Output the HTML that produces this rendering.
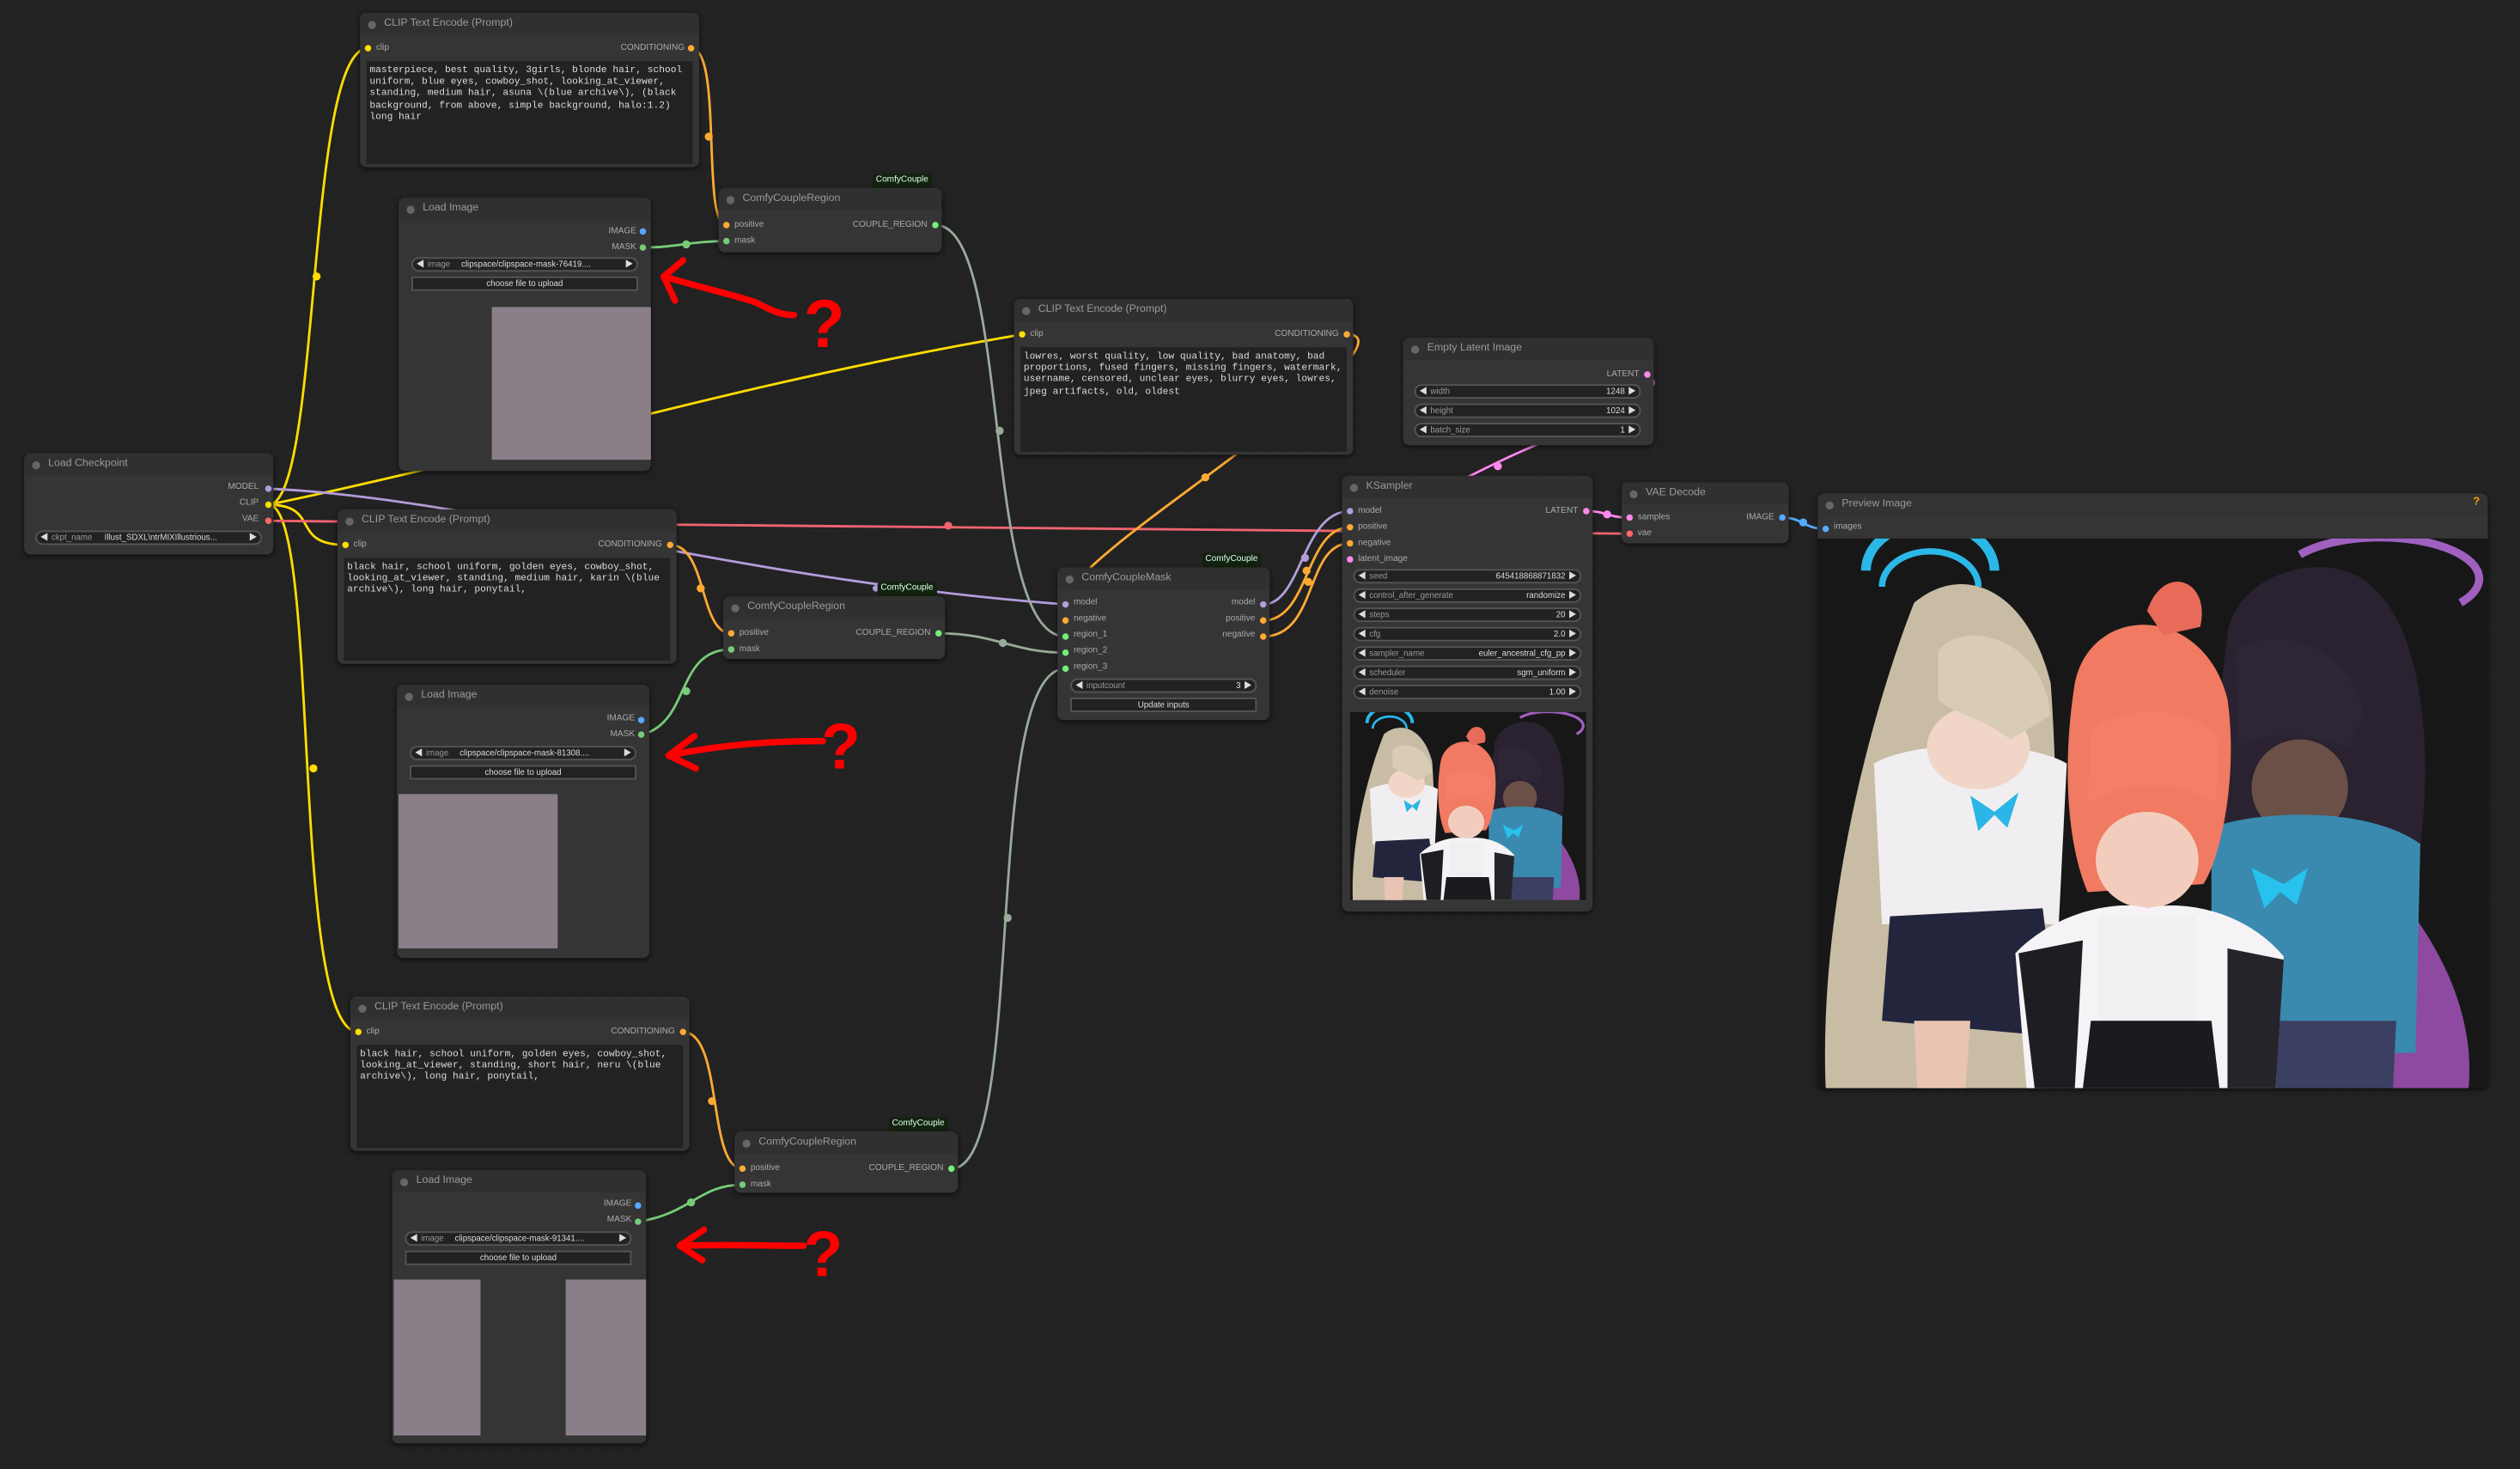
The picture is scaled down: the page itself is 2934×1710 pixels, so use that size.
<!DOCTYPE html>
<html><head><meta charset="utf-8"><style>
html,body{margin:0;padding:0;background:#222;overflow:hidden;width:2934px;height:1709px}
#s{position:absolute;left:0;top:0;width:1568px;height:914px;transform:scale(1.87117);transform-origin:0 0;background:#222;font-family:"Liberation Sans","Noto Sans CJK KR",sans-serif}
.n{position:absolute;background:#353535;border-radius:4px;box-shadow:0 1px 3px rgba(0,0,0,.6)}
.ti{position:absolute;left:0;top:0;right:0;height:14px;background:#303030;border-radius:4px 4px 0 0;color:#9a9a9a;font-size:6.6px;line-height:14px;padding-left:15px;white-space:nowrap}
.ti:before{content:"";position:absolute;left:5px;top:4.5px;width:5px;height:5px;border-radius:50%;background:#666}
.l{position:absolute;font-size:5.4px;color:#aaa;white-space:nowrap;line-height:7px}
.r{text-align:right}
.d{position:absolute;width:4px;height:4px;border-radius:50%;margin:-2px 0 0 -2px}
.tb{position:absolute;background:#222;color:#ddd;font-family:"Liberation Mono","Noto Sans CJK KR",monospace;font-size:6px;line-height:7.2px;padding:2px 2px;box-sizing:border-box;white-space:normal;word-break:break-word}
.w{position:absolute;height:9px;background:#222;border:0.6px solid #555;border-radius:5px;box-sizing:border-box;font-size:5.2px;line-height:8px;color:#999;white-space:nowrap;overflow:hidden}
.w .a{position:absolute;left:2px;color:#ddd}
.w .b{position:absolute;right:2px;color:#ddd}
.w .k{position:absolute;left:9px}
.w .v{position:absolute;right:9px;color:#ddd}
.btn{position:absolute;height:9px;background:#222;border:0.6px solid #555;box-sizing:border-box;font-size:5.2px;line-height:8px;color:#ddd;text-align:center}
.bd{position:absolute;color:#dfe;font-size:5.4px;line-height:9px;height:9px;padding:0 2px;border-radius:2px;background:#13220f}
.g{position:absolute;background:#8a7f88}
</style></head><body><div id="s">
<svg width="1568" height="914" style="position:absolute;left:0;top:0">
<defs><pattern id="gr" width="10" height="10" patternUnits="userSpaceOnUse"><path d="M10 0H0V10" fill="none" stroke="#262626" stroke-width=".5"/></pattern></defs>
<rect width="1568" height="914" fill="url(#gr)"/>
<g fill="none" stroke-width="1.5">
<path d="M167 314 C200 314 190 30 229 30" stroke="#fd0"/>
<path d="M167 314 C200 314 180 339 215 339" stroke="#fd0"/>
<path d="M167 314 C200 314 180 642 223 642" stroke="#fd0"/>
<path d="M167 314 C330 280 450 240 636 208" stroke="#fd0"/>
<path d="M167 304 C300 310 450 360 663 376" stroke="#b39ddb"/>
<path d="M167 324 C400 326 700 328 1014 332" stroke="#f06470"/>
<path d="M430 30 C450 30 436 140 452 140" stroke="#fa3"/>
<path d="M400 154 C420 154 430 150 452 150" stroke="#7c7"/>
<path d="M582 140 C630 140 610 396 663 396" stroke="#9a9"/>
<path d="M417 339 C440 339 435 394 455 394" stroke="#fa3"/>
<path d="M399 457 C430 450 420 404 455 404" stroke="#7c7"/>
<path d="M584 394 C620 394 630 406 663 406" stroke="#9a9"/>
<path d="M425 642 C450 642 440 727 462 727" stroke="#fa3"/>
<path d="M397 760 C430 755 435 737 462 737" stroke="#7c7"/>
<path d="M592 727 C640 727 610 416 663 416" stroke="#9a9"/>
<path d="M838 208 C860 208 830 240 770 282 C720 320 660 360 660 380 C660 390 663 386 663 386" stroke="#fa3"/>
<path d="M786 376 C810 376 810 318 840 318" stroke="#b39ddb"/>
<path d="M786 386 C815 386 812 328 840 328" stroke="#fa3"/>
<path d="M786 396 C820 396 812 338 840 338" stroke="#fa3"/>
<path d="M1025 233 C1035 240 1030 245 960 275 C900 300 835 340 840 348" stroke="#f8e"/>
<path d="M987 318 C1000 318 1000 322 1014 322" stroke="#f8e"/>
<path d="M1109 322 C1122 322 1122 329 1136 329" stroke="#5af"/>
</g>
<g>
<circle cx="197" cy="172" r="2.5" fill="#fd0"/><circle cx="195" cy="478" r="2.5" fill="#fd0"/>
<circle cx="441" cy="85" r="2.5" fill="#fa3"/><circle cx="427" cy="152" r="2.5" fill="#7c7"/>
<circle cx="622" cy="268" r="2.5" fill="#9a9"/><circle cx="436" cy="366" r="2.5" fill="#fa3"/>
<circle cx="427" cy="430" r="2.5" fill="#7c7"/><circle cx="624" cy="400" r="2.5" fill="#9a9"/>
<circle cx="443" cy="685" r="2.5" fill="#fa3"/><circle cx="430" cy="748" r="2.5" fill="#7c7"/>
<circle cx="627" cy="571" r="2.5" fill="#9a9"/><circle cx="750" cy="297" r="2.5" fill="#fa3"/>
<circle cx="590" cy="327" r="2.5" fill="#f06470"/><circle cx="545" cy="366" r="2" fill="#b39ddb"/>
<circle cx="812" cy="347" r="2.5" fill="#b39ddb"/><circle cx="813" cy="355" r="2.5" fill="#fa3"/><circle cx="814" cy="362" r="2.5" fill="#fa3"/>
<circle cx="932" cy="290" r="2.5" fill="#f8e"/><circle cx="1000" cy="320" r="2.5" fill="#f8e"/><circle cx="1122" cy="325" r="2.5" fill="#5af"/>
</g>
</svg>

<div class="n" style="left:224px;top:8px;width:211px;height:96px"><div class="ti">CLIP Text Encode (Prompt)</div>
<div class="l" style="left:10px;top:19px">clip</div><div class="l r" style="right:9px;top:19px">CONDITIONING</div>
<div class="tb" style="left:4px;top:30px;width:203px;height:64px">masterpiece, best quality, 3girls, blonde hair, school uniform, blue eyes, cowboy_shot, looking_at_viewer, standing, medium hair, asuna \(blue archive\), (black background, from above, simple background, halo:1.2) long hair</div></div>
<div class="d" style="left:229px;top:30px;background:#fd0"></div><div class="d" style="left:430px;top:30px;background:#fa3"></div>

<div class="n" style="left:248px;top:123px;width:157px;height:170px"><div class="ti">Load Image</div>
<div class="l r" style="right:9px;top:18px">IMAGE</div><div class="l r" style="right:9px;top:28px">MASK</div>
<div class="w" style="left:8px;top:37px;width:141px"><span class="a">◀</span><span class="k">image</span><span style="position:absolute;left:30px;color:#ddd">clipspace/clipspace-mask-76419....</span><span class="b">▶</span></div>
<div class="btn" style="left:8px;top:49px;width:141px">choose file to upload</div>
<div class="g" style="left:58px;top:68px;width:99px;height:95px"></div></div>
<div class="d" style="left:400px;top:144px;background:#5af"></div><div class="d" style="left:400px;top:154px;background:#7c7"></div>

<div class="bd" style="left:543px;top:108px">ComfyCouple</div>
<div class="n" style="left:447px;top:117px;width:139px;height:40px"><div class="ti">ComfyCoupleRegion</div>
<div class="l" style="left:10px;top:20px">positive</div><div class="l" style="left:10px;top:30px">mask</div><div class="l r" style="right:9px;top:20px">COUPLE_REGION</div></div>
<div class="d" style="left:452px;top:140px;background:#fa3"></div><div class="d" style="left:452px;top:150px;background:#7c7"></div><div class="d" style="left:582px;top:140px;background:#7e7"></div>

<div class="n" style="left:631px;top:186px;width:211px;height:97px"><div class="ti">CLIP Text Encode (Prompt)</div>
<div class="l" style="left:10px;top:19px">clip</div><div class="l r" style="right:9px;top:19px">CONDITIONING</div>
<div class="tb" style="left:4px;top:30px;width:203px;height:65px">lowres, worst quality, low quality, bad anatomy, bad proportions, fused fingers, missing fingers, watermark, username, censored, unclear eyes, blurry eyes, lowres, jpeg artifacts, old, oldest</div></div>
<div class="d" style="left:636px;top:208px;background:#fd0"></div><div class="d" style="left:838px;top:208px;background:#fa3"></div>

<div class="n" style="left:873px;top:210px;width:156px;height:67px"><div class="ti">Empty Latent Image</div>
<div class="l r" style="right:9px;top:20px">LATENT</div>
<div class="w" style="left:7px;top:29px;width:141px"><span class="a">◀</span><span class="k">width</span><span class="v">1248</span><span class="b">▶</span></div>
<div class="w" style="left:7px;top:41px;width:141px"><span class="a">◀</span><span class="k">height</span><span class="v">1024</span><span class="b">▶</span></div>
<div class="w" style="left:7px;top:53px;width:141px"><span class="a">◀</span><span class="k">batch_size</span><span class="v">1</span><span class="b">▶</span></div></div>
<div class="d" style="left:1025px;top:233px;background:#f8e"></div>

<div class="n" style="left:15px;top:282px;width:155px;height:63px"><div class="ti">Load Checkpoint</div>
<div class="l r" style="right:9px;top:18px">MODEL</div><div class="l r" style="right:9px;top:28px">CLIP</div><div class="l r" style="right:9px;top:38px">VAE</div>
<div class="w" style="left:7px;top:48px;width:141px"><span class="a">◀</span><span class="k">ckpt_name</span><span style="position:absolute;left:42px;color:#ddd">Illust_SDXL\ntrMIXIllustrious...</span><span class="b">▶</span></div></div>
<div class="d" style="left:167px;top:304px;background:#b39ddb"></div><div class="d" style="left:167px;top:314px;background:#fd0"></div><div class="d" style="left:167px;top:324px;background:#f66"></div>

<div class="n" style="left:210px;top:317px;width:211px;height:96px"><div class="ti">CLIP Text Encode (Prompt)</div>
<div class="l" style="left:10px;top:19px">clip</div><div class="l r" style="right:9px;top:19px">CONDITIONING</div>
<div class="tb" style="left:4px;top:30px;width:203px;height:64px">black hair, school uniform, golden eyes, cowboy_shot, looking_at_viewer, standing, medium hair, karin \(blue archive\), long hair, ponytail,</div></div>
<div class="d" style="left:215px;top:339px;background:#fd0"></div><div class="d" style="left:417px;top:339px;background:#fa3"></div>

<div class="bd" style="left:546px;top:362px">ComfyCouple</div>
<div class="n" style="left:450px;top:371px;width:138px;height:39px"><div class="ti">ComfyCoupleRegion</div>
<div class="l" style="left:10px;top:20px">positive</div><div class="l" style="left:10px;top:30px">mask</div><div class="l r" style="right:9px;top:20px">COUPLE_REGION</div></div>
<div class="d" style="left:455px;top:394px;background:#fa3"></div><div class="d" style="left:455px;top:404px;background:#7c7"></div><div class="d" style="left:584px;top:394px;background:#7e7"></div>

<div class="n" style="left:247px;top:426px;width:157px;height:170px"><div class="ti">Load Image</div>
<div class="l r" style="right:9px;top:18px">IMAGE</div><div class="l r" style="right:9px;top:28px">MASK</div>
<div class="w" style="left:8px;top:38px;width:141px"><span class="a">◀</span><span class="k">image</span><span style="position:absolute;left:30px;color:#ddd">clipspace/clipspace-mask-81308....</span><span class="b">▶</span></div>
<div class="btn" style="left:8px;top:50px;width:141px">choose file to upload</div>
<div class="g" style="left:1px;top:68px;width:99px;height:96px"></div></div>
<div class="d" style="left:399px;top:448px;background:#5af"></div><div class="d" style="left:399px;top:457px;background:#7c7"></div>

<div class="bd" style="left:748px;top:344px">ComfyCouple</div>
<div class="n" style="left:658px;top:353px;width:132px;height:95px"><div class="ti">ComfyCoupleMask</div>
<div class="l" style="left:10px;top:19px">model</div><div class="l" style="left:10px;top:29px">negative</div><div class="l" style="left:10px;top:39px">region_1</div><div class="l" style="left:10px;top:49px">region_2</div><div class="l" style="left:10px;top:59px">region_3</div>
<div class="l r" style="right:9px;top:19px">model</div><div class="l r" style="right:9px;top:29px">positive</div><div class="l r" style="right:9px;top:39px">negative</div>
<div class="w" style="left:8px;top:69px;width:116px"><span class="a">◀</span><span class="k">inputcount</span><span class="v">3</span><span class="b">▶</span></div>
<div class="btn" style="left:8px;top:81px;width:116px">Update inputs</div></div>
<div class="d" style="left:663px;top:376px;background:#b39ddb"></div><div class="d" style="left:663px;top:386px;background:#fa3"></div><div class="d" style="left:663px;top:396px;background:#7e7"></div><div class="d" style="left:663px;top:406px;background:#7e7"></div><div class="d" style="left:663px;top:416px;background:#7e7"></div>
<div class="d" style="left:786px;top:376px;background:#b39ddb"></div><div class="d" style="left:786px;top:386px;background:#fa3"></div><div class="d" style="left:786px;top:396px;background:#fa3"></div>

<div class="n" style="left:835px;top:296px;width:156px;height:271px"><div class="ti">KSampler</div>
<div class="l" style="left:10px;top:19px">model</div><div class="l" style="left:10px;top:29px">positive</div><div class="l" style="left:10px;top:39px">negative</div><div class="l" style="left:10px;top:49px">latent_image</div>
<div class="l r" style="right:9px;top:19px">LATENT</div>
<div class="w" style="left:7px;top:58px;width:142px"><span class="a">◀</span><span class="k">seed</span><span class="v">645418868871832</span><span class="b">▶</span></div>
<div class="w" style="left:7px;top:70px;width:142px"><span class="a">◀</span><span class="k">control_after_generate</span><span class="v">randomize</span><span class="b">▶</span></div>
<div class="w" style="left:7px;top:82px;width:142px"><span class="a">◀</span><span class="k">steps</span><span class="v">20</span><span class="b">▶</span></div>
<div class="w" style="left:7px;top:94px;width:142px"><span class="a">◀</span><span class="k">cfg</span><span class="v">2.0</span><span class="b">▶</span></div>
<div class="w" style="left:7px;top:106px;width:142px"><span class="a">◀</span><span class="k">sampler_name</span><span class="v">euler_ancestral_cfg_pp</span><span class="b">▶</span></div>
<div class="w" style="left:7px;top:118px;width:142px"><span class="a">◀</span><span class="k">scheduler</span><span class="v">sgm_uniform</span><span class="b">▶</span></div>
<div class="w" style="left:7px;top:130px;width:142px"><span class="a">◀</span><span class="k">denoise</span><span class="v">1.00</span><span class="b">▶</span></div>
<svg style="position:absolute;left:5px;top:147px" width="147" height="117" viewBox="0 0 417 342" preserveAspectRatio="none"><use href="#art"/></svg></div>
<div class="d" style="left:840px;top:318px;background:#b39ddb"></div><div class="d" style="left:840px;top:328px;background:#fa3"></div><div class="d" style="left:840px;top:338px;background:#fa3"></div><div class="d" style="left:840px;top:348px;background:#f8e"></div><div class="d" style="left:987px;top:318px;background:#f8e"></div>

<div class="n" style="left:1009px;top:300px;width:104px;height:38px"><div class="ti">VAE Decode</div>
<div class="l" style="left:10px;top:19px">samples</div><div class="l" style="left:10px;top:29px">vae</div><div class="l r" style="right:9px;top:19px">IMAGE</div></div>
<div class="d" style="left:1014px;top:322px;background:#f8e"></div><div class="d" style="left:1014px;top:332px;background:#f66"></div><div class="d" style="left:1109px;top:322px;background:#5af"></div>

<div class="n" style="left:1131px;top:307px;width:417px;height:370px;background:#151515"><div class="ti" style="background:#333">Preview Image</div>
<div style="position:absolute;left:0;right:0;top:14px;height:14px;background:#353535"></div>
<div class="l" style="left:10px;top:18px">images</div>
<div style="position:absolute;right:5px;top:2px;color:#f90;font-size:7px;font-weight:bold">?</div>
<svg style="position:absolute;left:0;top:28px" width="417" height="342" viewBox="0 0 417 342">
<defs><g id="art">
<rect width="417" height="342" fill="#171717"/>
<path d="M30 20 A40 30 0 0 1 110 20" stroke="#2bb8e8" stroke-width="6" fill="none"/>
<path d="M40 30 A30 22 0 0 1 100 30" stroke="#2bb8e8" stroke-width="4" fill="none"/>
<path d="M300 10 A60 25 0 0 1 400 40" stroke="#a060c0" stroke-width="5" fill="none"/>
<path d="M5 342 C0 220 40 90 60 40 C90 15 130 30 145 90 C150 160 150 250 140 342 Z" fill="#c9bca5"/>
<path d="M35 140 C60 125 130 125 155 140 L150 240 L40 240 Z" fill="#f0eef0"/>
<ellipse cx="100" cy="130" rx="32" ry="26" fill="#f1d6c8"/>
<path d="M75 70 C90 50 140 60 145 110 L120 125 C100 110 85 110 75 100 Z" fill="#d8ccb5"/>
<path d="M95 160 L110 170 L125 158 L118 180 L110 172 L100 182 Z" fill="#2ab6e6"/>
<path d="M45 235 L140 230 L150 310 L40 300 Z" fill="#22253b"/>
<path d="M60 300 L95 300 L92 342 L62 342 Z" fill="#e9c4b3"/>
<path d="M350 210 C380 240 410 290 405 342 L355 342 C345 300 340 260 350 210 Z" fill="#8d4aa0"/>
<path d="M255 60 C260 20 320 5 345 30 C380 60 385 150 370 220 L350 260 L258 250 C245 180 248 110 255 60 Z" fill="#2a2230"/>
<ellipse cx="300" cy="155" rx="30" ry="30" fill="#6a5046"/>
<path d="M260 70 C280 55 330 60 340 110 L330 130 C300 120 280 120 262 130 Z" fill="#2e2535"/>
<path d="M245 180 C270 170 340 165 375 190 L372 320 L245 320 Z" fill="#3a8ab0"/>
<path d="M270 205 L290 215 L305 205 L298 228 L288 220 L278 230 Z" fill="#27c2ee"/>
<path d="M280 300 L360 300 L358 342 L285 342 Z" fill="#3b3f62"/>
<path d="M160 90 C170 40 240 40 255 100 C262 150 250 200 240 215 L168 220 C155 190 152 140 160 90 Z" fill="#f07a62"/>
<path d="M205 45 C215 15 245 25 238 55 L215 60 Z" fill="#e86a58"/>
<ellipse cx="205" cy="200" rx="32" ry="30" fill="#f2cdbd"/>
<path d="M170 120 C185 105 230 100 250 125 L248 165 C225 150 190 150 168 165 Z" fill="#f27f66"/>
<path d="M123 258 C150 230 190 225 205 230 C225 225 265 230 290 260 L285 342 L130 342 Z" fill="#f5f3f5"/>
<path d="M175 235 L235 235 L235 320 L175 320 Z" fill="#eef0f2"/>
<path d="M170 300 L245 300 L250 342 L165 342 Z" fill="#1a1a1f"/>
<path d="M125 258 L165 250 L160 342 L135 342 Z" fill="#1e1e22"/>
<path d="M255 255 L290 262 L285 342 L255 342 Z" fill="#24242a"/>
</g></defs><use href="#art"/></svg></div>
<div class="d" style="left:1136px;top:329px;background:#5af"></div>

<div class="n" style="left:218px;top:620px;width:211px;height:96px"><div class="ti">CLIP Text Encode (Prompt)</div>
<div class="l" style="left:10px;top:19px">clip</div><div class="l r" style="right:9px;top:19px">CONDITIONING</div>
<div class="tb" style="left:4px;top:30px;width:203px;height:64px">black hair, school uniform, golden eyes, cowboy_shot, looking_at_viewer, standing, short hair, neru \(blue archive\), long hair, ponytail,</div></div>
<div class="d" style="left:223px;top:642px;background:#fd0"></div><div class="d" style="left:425px;top:642px;background:#fa3"></div>

<div class="bd" style="left:553px;top:695px">ComfyCouple</div>
<div class="n" style="left:457px;top:704px;width:139px;height:38px"><div class="ti">ComfyCoupleRegion</div>
<div class="l" style="left:10px;top:20px">positive</div><div class="l" style="left:10px;top:30px">mask</div><div class="l r" style="right:9px;top:20px">COUPLE_REGION</div></div>
<div class="d" style="left:462px;top:727px;background:#fa3"></div><div class="d" style="left:462px;top:737px;background:#7c7"></div><div class="d" style="left:592px;top:727px;background:#7e7"></div>

<div class="n" style="left:244px;top:728px;width:158px;height:170px"><div class="ti">Load Image</div>
<div class="l r" style="right:9px;top:18px">IMAGE</div><div class="l r" style="right:9px;top:28px">MASK</div>
<div class="w" style="left:8px;top:38px;width:141px"><span class="a">◀</span><span class="k">image</span><span style="position:absolute;left:30px;color:#ddd">clipspace/clipspace-mask-91341....</span><span class="b">▶</span></div>
<div class="btn" style="left:8px;top:50px;width:141px">choose file to upload</div>
<div class="g" style="left:1px;top:68px;width:54px;height:97px"></div>
<div class="g" style="left:108px;top:68px;width:50px;height:97px"></div></div>
<div class="d" style="left:397px;top:750px;background:#5af"></div><div class="d" style="left:397px;top:760px;background:#7c7"></div>

<svg width="1568" height="914" style="position:absolute;left:0;top:0" fill="none" stroke="#f00" stroke-width="4" stroke-linecap="round" stroke-linejoin="round">
<path d="M413 172 C440 180 455 183 470 188 C480 193 485 196 494 196"/>
<path d="M425 162 L413 172 L420 187"/>
<path d="M416 470 C450 463 480 461 512 461"/>
<path d="M432 458 L416 470 L433 478"/>
<path d="M423 775 C450 774 475 775 500 775"/>
<path d="M438 765 L423 775 L437 784"/>
<text x="500" y="216" fill="#f00" stroke="none" font-family="Liberation Sans" font-weight="bold" font-size="42">?</text>
<text x="511" y="478" fill="#f00" stroke="none" font-family="Liberation Sans" font-weight="bold" font-size="40">?</text>
<text x="500" y="794" fill="#f00" stroke="none" font-family="Liberation Sans" font-weight="bold" font-size="40">?</text>
</svg>
</div></body></html>
